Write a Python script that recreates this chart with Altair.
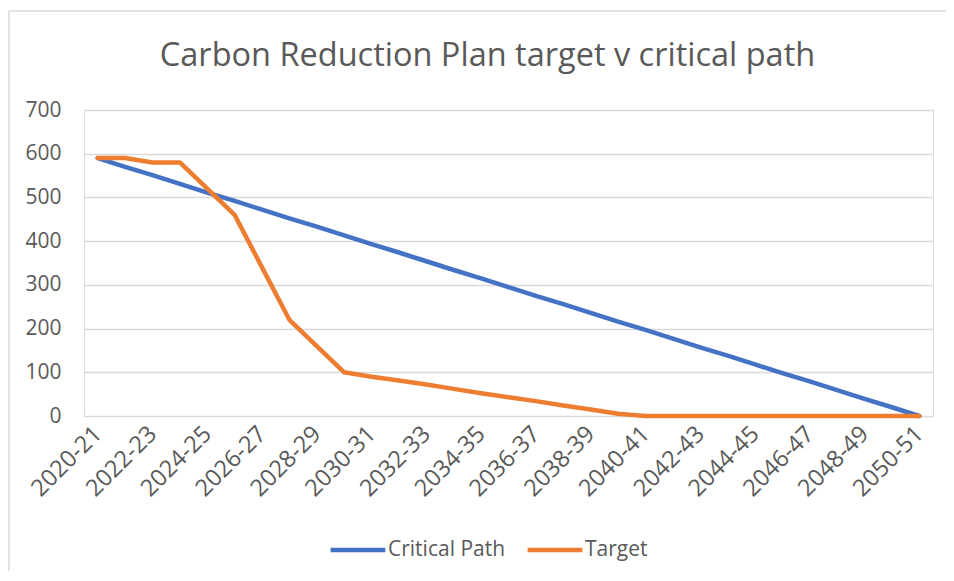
import altair as alt
import pandas as pd

years = [f"{y}-{str(y + 1)[-2:]}" for y in range(2020, 2051)]

critical_path = [590, 570, 551, 531, 511, 492, 472, 452, 433, 413, 393,
                 374, 354, 334, 315, 295, 275, 256, 236, 216, 197,
                 177, 157, 138, 118, 98, 79, 59, 39, 20, 0]
target = [590, 590, 580, 580, 520, 460, 340, 220, 160, 100, 90,
          81, 72, 62, 52, 43, 34, 24, 15, 5, 0,
          0, 0, 0, 0, 0, 0, 0, 0, 0, 0]

series_names = ["Critical Path", "Target"]
series_colors = ["#4472C4", "#ED7D31"]
tick_years = years[::2]

rows = []
for i, y in enumerate(years):
    rows.append({"year": y, "series": series_names[0], "value": critical_path[i]})
    rows.append({"year": y, "series": series_names[1], "value": target[i]})
df = pd.DataFrame(rows)

FONT = "Open Sans"
GREY = "#595959"

lines = alt.Chart(df).mark_line(strokeWidth=4.5, strokeCap="round", strokeJoin="round", clip=False).encode(
    x=alt.X("year:N", sort=years,
            scale=alt.Scale(type="point", padding=0.5),
            axis=alt.Axis(values=tick_years, labelAngle=-45, labelAlign="right",
                          labelBaseline="middle", labelFontSize=23.5, labelColor=GREY,
                          labelFont=FONT, domain=False, ticks=False, grid=False,
                          labelPadding=14, title=None)),
    y=alt.Y("value:Q", scale=alt.Scale(domain=[0, 700]),
            axis=alt.Axis(values=[0, 100, 200, 300, 400, 500, 600, 700],
                          labelFontSize=21, labelColor=GREY, labelFont=FONT,
                          domain=False, ticks=False, gridColor="#d9d9d9",
                          gridWidth=1.3, labelPadding=23, title=None)),
    color=alt.Color("series:N", sort=series_names,
                    scale=alt.Scale(domain=series_names, range=series_colors),
                    legend=alt.Legend(orient="none", legendX=244, legendY=410,
                                      direction="horizontal", title=None,
                                      symbolType="stroke", symbolStrokeWidth=4.5,
                                      symbolSize=3000, labelFontSize=21,
                                      labelColor=GREY, labelFont=FONT,
                                      labelOffset=0, columnPadding=12)),
)

border = alt.Chart(pd.DataFrame({"k": [0]})).mark_rect(
    fill="white", fillOpacity=0, stroke="#d9d9d9", strokeWidth=1.5, clip=False
).encode(
    x=alt.value(-75), x2=alt.value(1000), y=alt.value(-99), y2=alt.value(600)
)

chart = alt.layer(border, lines).properties(
    width=849, height=306,
    title=alt.TitleParams("Carbon Reduction Plan target v critical path",
                          fontSize=32.5, font=FONT, fontWeight="normal",
                          color=GREY, anchor="middle", frame="group",
                          offset=-62, dx=-21),
    autosize=alt.AutoSizeParams(type="none"),
    padding={"left": 76, "top": 102, "right": 13, "bottom": 155},
).configure_view(stroke=None).configure(background="white")

chart.save("out.html", embed_options={"renderer": "svg", "actions": False})
